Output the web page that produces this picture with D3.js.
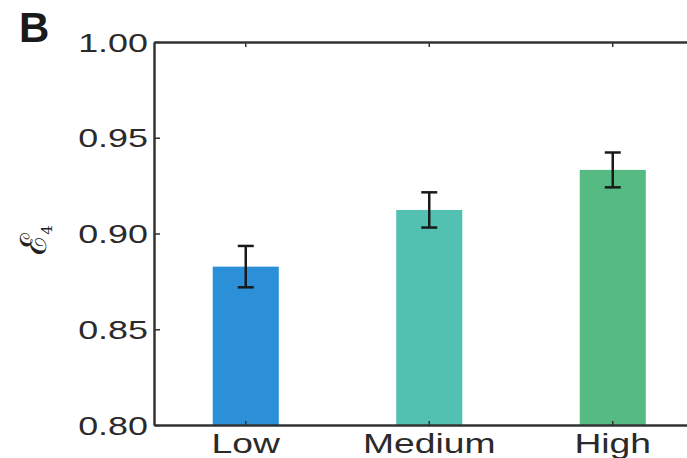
<!DOCTYPE html>
<html>
<head>
<meta charset="utf-8">
<script src="https://cdn.jsdelivr.net/npm/d3@7"></script>
<style>
  body { margin: 0; background: #fff; }
  svg { display: block; font-family: "Liberation Sans", Arial, sans-serif; }
</style>
</head>
<body>
<svg id="chart" width="687" height="458"></svg>
<script>
// data
const categories = ['Low', 'Medium', 'High'];
const values = [0.8827, 0.9123, 0.9332];
const errors = [0.0108, 0.0092, 0.0091];
const colors = ['#2b90d8', '#52c1b1', '#56ba83'];
const yTicks = [0.80, 0.85, 0.90, 0.95, 1.00];

const svg = d3.select('#chart');
const stretch = 1.38; // glyphs in the source are wider than Arial

const x = d3.scaleBand()
  .domain(categories)
  .range([154, 704.5])
  .paddingInner(0.64)
  .paddingOuter(0.32);

const y = d3.scaleLinear().domain([0.8, 1.0]).range([425, 42]);

const axisColor = '#333';

// bars
svg.append('g')
  .selectAll('rect')
  .data(categories)
  .join('rect')
  .attr('x', (d) => x(d))
  .attr('y', (d, i) => y(values[i]))
  .attr('width', x.bandwidth())
  .attr('height', (d, i) => y(0.8) - y(values[i]))
  .attr('fill', (d, i) => colors[i]);

// error bars
const err = svg.append('g')
  .attr('stroke', '#1a1a1a')
  .attr('stroke-width', 2.5);

categories.forEach((c, i) => {
  const cx = x(c) + x.bandwidth() / 2;
  const top = y(values[i] + errors[i]);
  const bot = y(values[i] - errors[i]);
  err.append('line').attr('x1', cx).attr('x2', cx).attr('y1', top).attr('y2', bot);
  err.append('line').attr('x1', cx - 8).attr('x2', cx + 8).attr('y1', top).attr('y2', top);
  err.append('line').attr('x1', cx - 8).attr('x2', cx + 8).attr('y1', bot).attr('y2', bot);
});

// left axis
const gy = svg.append('g')
  .attr('transform', 'translate(154,0)')
  .call(d3.axisLeft(y)
    .tickValues(yTicks)
    .tickSizeInner(-6)
    .tickSizeOuter(0)
    .tickFormat(d3.format('.2f')));

// bottom axis
const gx = svg.append('g')
  .attr('transform', `translate(0,${y(0.8)})`)
  .call(d3.axisBottom(x).tickSizeInner(-4).tickSizeOuter(0));

// top axis, ticks only
const gt = svg.append('g')
  .attr('transform', `translate(0,${y(1.0)})`)
  .call(d3.axisTop(x).tickSizeInner(-5).tickSizeOuter(0).tickFormat(''));

[gy, gx, gt].forEach((g) => {
  g.select('.domain').attr('stroke', axisColor).attr('stroke-width', 2.5);
  g.selectAll('.tick line').attr('stroke', axisColor).attr('stroke-width', 1.5);
});

gy.selectAll('.tick text')
  .attr('x', 0)
  .attr('dy', '0.35em')
  .attr('transform', `translate(-6,0) scale(${stretch},1)`)
  .attr('fill', '#2a2a2a')
  .style('font-size', '26px')
  .style('font-family', '"Liberation Sans", Arial, sans-serif');

gx.selectAll('.tick text')
  .attr('y', 28)
  .attr('dy', 0)
  .attr('transform', `scale(${stretch},1)`)
  .attr('fill', '#2a2a2a')
  .style('font-size', '27px')
  .style('font-family', '"Liberation Sans", Arial, sans-serif');

// y label
const ylab = svg.append('text')
  .attr('transform', 'translate(46,240) rotate(-90)')
  .attr('text-anchor', 'middle')
  .attr('fill', '#222')
  .style('font-family', '"DejaVu Serif", serif')
  .style('font-size', '36px');
ylab.append('tspan').text('ℰ');
ylab.append('tspan').attr('dy', 6).attr('dx', -2).style('font-size', '15px').text('4');

// panel letter
svg.append('text')
  .attr('x', 19)
  .attr('y', 42)
  .attr('fill', '#1a1a1a')
  .style('font-weight', 'bold')
  .style('font-size', '42px')
  .text('B');
</script>
</body>
</html>
